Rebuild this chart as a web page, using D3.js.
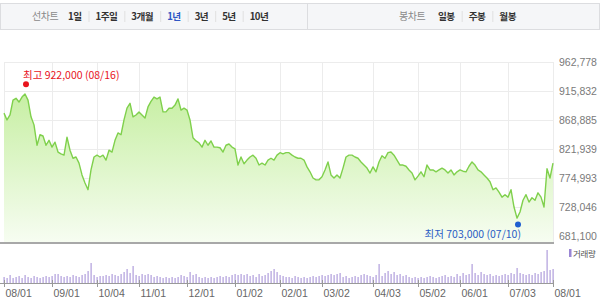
<!DOCTYPE html>
<html>
<head>
<meta charset="utf-8">
<script src="https://cdn.jsdelivr.net/npm/d3@7"></script>
<style>
    body { margin: 0; background: #fff; }
    svg { font-family: "Noto Sans CJK KR", "Noto Sans", sans-serif; }
</style>
</head>
<body>
<svg id="chart" width="600" height="300"></svg>
<script>
// top bar buttons
const periodLabels = ['1일', '1주일', '3개월', '1년', '3년', '5년', '10년'];
const periodActive = '1년';
const candleLabels = ['일봉', '주봉', '월봉'];

// close price, thousand won, roughly every 2 trading days from 08/01
const prices = [
    880, 869, 877, 901, 904, 898, 906, 911, 901, 874, 861, 828, 845, 843, 828, 836,
    825, 833, 817, 814, 812, 841, 820, 807, 809, 799, 780, 767, 756, 788, 809, 812,
    809, 812, 804, 820, 817, 836, 848, 845, 869, 888, 896, 874, 877, 882, 877, 872,
    890, 899, 906, 903, 906, 882, 882, 888, 888, 893, 903, 885, 888, 885, 869, 840,
    835, 832, 825, 836, 828, 835, 825, 825, 824, 817, 828, 830, 825, 822, 796, 809,
    798, 804, 809, 812, 807, 796, 799, 796, 804, 807, 804, 812, 816, 814, 816, 816,
    812, 809, 807, 807, 804, 793, 785, 775, 772, 772, 777, 788, 801, 780, 775, 780,
    775, 791, 809, 812, 812, 809, 807, 801, 796, 791, 783, 793, 785, 801, 811, 807,
    816, 817, 812, 804, 796, 796, 794, 788, 783, 772, 778, 785, 777, 796, 788, 788,
    785, 788, 791, 788, 783, 788, 780, 785, 788, 786, 785, 794, 801, 796, 788, 785,
    780, 775, 769, 756, 759, 752, 744, 748, 744, 756, 728, 710, 720, 739, 748, 736,
    743, 739, 751, 744, 728, 790, 775, 799
];

// trading volume, same sampling
const volumes = [
    6, 5, 8, 5, 6, 7, 5, 8, 6, 5, 7, 6, 5, 6, 7, 6,
    7, 9, 9, 7, 6, 7, 6, 8, 7, 6, 8, 9, 12, 20, 8, 6,
    7, 7, 8, 7, 9, 8, 7, 9, 11, 14, 10, 17, 8, 7, 9, 8,
    9, 8, 6, 7, 6, 5, 6, 5, 6, 5, 6, 8, 7, 6, 11, 8,
    9, 6, 5, 6, 5, 6, 5, 6, 7, 6, 7, 6, 8, 9, 8, 9,
    8, 9, 7, 8, 6, 9, 7, 8, 10, 12, 14, 11, 8, 7, 6, 6,
    5, 7, 6, 5, 6, 5, 6, 7, 6, 7, 8, 7, 8, 9, 8, 9,
    10, 6, 7, 5, 6, 7, 6, 8, 9, 8, 7, 6, 8, 19, 7, 10,
    12, 9, 11, 8, 9, 7, 8, 6, 5, 6, 5, 6, 5, 6, 7, 6,
    5, 6, 7, 8, 6, 7, 6, 9, 7, 10, 8, 9, 19, 10, 8, 11,
    9, 8, 9, 7, 8, 7, 8, 9, 8, 10, 9, 15, 10, 9, 8, 9,
    8, 10, 9, 11, 12, 33, 13, 14
];

// x axis labels and the sample index they sit on
const monthLabels = ['08/01', '09/01', '10/04', '11/01', '12/01', '01/02', '02/01',
                     '03/02', '04/03', '05/02', '06/01', '07/03', '08/01'];
const monthIndex = [0, 16, 31, 45, 61, 77, 92, 106, 123, 138, 152, 168, 183];

const yTickValues = [681100, 728046, 774993, 821939, 868885, 915832, 962778];

const highValue = 922000, highDate = '08/16';
const lowValue = 703000, lowDate = '07/10';

const svg = d3.select('#chart');
const plot = {left: 4, right: 553, top: 62, bottom: 236, floor: 243};
const vol = {top: 250, bottom: 283};

// ---- top bar ----
function drawBar(x0, w, title, titleX, labels, startX){
    let g = svg.append('g');
    g.append('rect')
        .attr('x', x0 + 0.5).attr('y', 3.5)
        .attr('width', w).attr('height', 26)
        .attr('fill', '#f5f6f8')
        .attr('stroke', '#dcdde0');
    g.append('text')
        .attr('x', titleX).attr('y', 20)
        .attr('font-size', 10).attr('letter-spacing', -0.4)
        .attr('fill', '#8a8a8a')
        .text(title);
    let x = startX;
    labels.forEach((t, i)=>{
        if(i > 0){
            g.append('line')
                .attr('x1', x + 0.5).attr('x2', x + 0.5)
                .attr('y1', 11).attr('y2', 22)
                .attr('stroke', '#e0e0e0');
            x += 7;
        }
        let txt = g.append('text')
            .attr('x', x).attr('y', 20)
            .attr('font-size', 9.6).attr('font-weight', 'bold')
            .attr('letter-spacing', -0.5)
            .attr('fill', t === periodActive && labels === periodLabels ? '#2f57c5' : '#333')
            .text(t);
        x += txt.node().getComputedTextLength() + 7;
    });
}
drawBar(0, 307, '선차트', 32, periodLabels, 68);
drawBar(307, 292, '봉차트', 399, candleLabels, 438);

// ---- scales ----
let x = d3.scaleLinear().domain([0, prices.length - 1]).range([plot.left, plot.right]);
let y = d3.scaleLinear().domain([yTickValues[0], yTickValues[yTickValues.length - 1]])
    .range([plot.bottom, plot.top]);
let yv = d3.scaleLinear().domain([0, d3.max(volumes)]).range([vol.bottom, vol.top]);

// ---- gradient ----
let grad = svg.append('defs').append('linearGradient')
    .attr('id', 'areaFill')
    .attr('gradientUnits', 'userSpaceOnUse')
    .attr('x1', 0).attr('x2', 0)
    .attr('y1', plot.top).attr('y2', plot.floor);
grad.append('stop').attr('offset', 0).attr('stop-color', '#bdec93');
grad.append('stop').attr('offset', 1).attr('stop-color', '#f7fdf2');

// ---- grid ----
svg.append('g')
    .attr('transform', `translate(${plot.left},0)`)
    .call(d3.axisLeft(y).tickValues(yTickValues).tickSize(-(plot.right + 1 - plot.left)).tickFormat(''))
    .call(g=>g.select('.domain').remove())
    .call(g=>g.selectAll('line').attr('stroke', '#ececec'));

svg.append('g')
    .attr('transform', `translate(0,${plot.floor})`)
    .call(d3.axisBottom(x).tickValues(monthIndex).tickSize(-(plot.floor - plot.top)).tickFormat(''))
    .call(g=>g.select('.domain').remove())
    .call(g=>g.selectAll('line').attr('stroke', '#ececec'));

// ---- price area + line ----
let area = d3.area()
    .x((d, i)=>x(i))
    .y0(plot.floor)
    .y1(d=>y(d * 1000));
let line = d3.line()
    .x((d, i)=>x(i))
    .y(d=>y(d * 1000));

svg.append('path')
    .attr('d', area(prices))
    .attr('fill', 'url(#areaFill)');
svg.append('path')
    .attr('d', line(prices))
    .attr('fill', 'none')
    .attr('stroke', '#7fd04c')
    .attr('stroke-width', 1.4)
    .attr('stroke-linejoin', 'round');

// bottom rule of price panel
svg.append('line')
    .attr('x1', 0).attr('x2', plot.right + 1)
    .attr('y1', plot.floor).attr('y2', plot.floor)
    .attr('stroke', '#a8a8a8').attr('stroke-width', 2);

// y labels
svg.append('g')
    .attr('transform', `translate(${plot.right + 1},0)`)
    .call(d3.axisRight(y).tickValues(yTickValues).tickSize(0).tickPadding(5).tickFormat(d3.format(',')))
    .call(g=>g.select('.domain').remove())
    .call(g=>g.selectAll('text')
        .attr('font-size', 10.5)
        .attr('fill', '#7a7a7a')
        .attr('font-family', '"Liberation Sans", Arial, sans-serif'));

// ---- high / low markers ----
let hiIdx = d3.maxIndex(prices);
let loIdx = d3.minIndex(prices);
let hx = x(hiIdx), hy = y(highValue) - 3;
let lx = x(loIdx), ly = y(lowValue) + 2;

svg.append('circle').attr('cx', hx + 1).attr('cy', hy).attr('r', 3).attr('fill', '#e8141d');
svg.append('text')
    .attr('x', hx - 2).attr('y', hy - 5)
    .attr('font-size', 10.5).attr('fill', '#e8141d')
    .text(`최고 ${d3.format(',')(highValue)} (${highDate})`);

svg.append('circle').attr('cx', lx + 1).attr('cy', ly).attr('r', 3).attr('fill', '#1f5fd0');
svg.append('text')
    .attr('x', lx + 4).attr('y', ly + 14)
    .attr('text-anchor', 'end')
    .attr('font-size', 10.5).attr('fill', '#2a5cc4')
    .text(`최저 ${d3.format(',')(lowValue)} (${lowDate})`);

// ---- volume ----
svg.append('g')
    .selectAll('rect')
    .data(volumes)
    .join('rect')
        .attr('x', (d, i)=>x(i) - 0.5)
        .attr('y', d=>yv(d))
        .attr('width', 1.2)
        .attr('height', d=>vol.bottom - yv(d))
        .attr('fill', '#b09ddc');

svg.append('g')
    .attr('transform', `translate(0,${vol.bottom})`)
    .call(d3.axisBottom(x).tickValues(monthIndex).tickSize(4).tickPadding(3)
        .tickFormat((d, i)=>monthLabels[i]))
    .call(g=>g.select('.domain').attr('d', `M0,0.5H${plot.right + 1}`).attr('stroke', '#999'))
    .call(g=>g.selectAll('.tick line').attr('stroke', '#999').attr('y1', -3))
    .call(g=>g.selectAll('text')
        .attr('text-anchor', 'start')
        .attr('dx', 1)
        .attr('font-size', 10.5)
        .attr('fill', '#666')
        .attr('font-family', '"Liberation Sans", Arial, sans-serif'));

// volume legend
svg.append('rect')
    .attr('x', 569).attr('y', 249)
    .attr('width', 2.5).attr('height', 8)
    .attr('fill', '#9a86d4');
svg.append('text')
    .attr('x', 573).attr('y', 256.5)
    .attr('font-size', 8.5).attr('letter-spacing', -0.3)
    .attr('fill', '#555')
    .text('거래량');
</script>
</body>
</html>
